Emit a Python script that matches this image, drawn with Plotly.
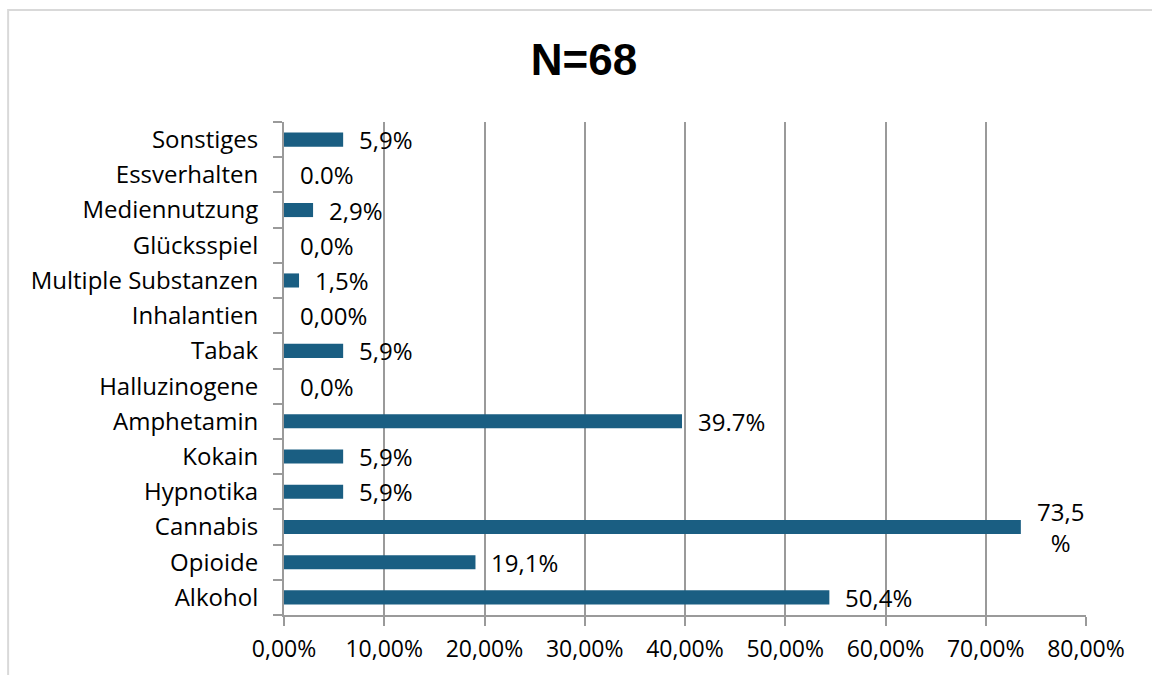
import plotly.graph_objects as go

categories = ["Alkohol", "Opioide", "Cannabis", "Hypnotika", "Kokain", "Amphetamin",
              "Halluzinogene", "Tabak", "Inhalantien", "Multiple Substanzen",
              "Glücksspiel", "Mediennutzung", "Essverhalten", "Sonstiges"]
values = [54.4, 19.1, 73.5, 5.9, 5.9, 39.7, 0.0, 5.9, 0.0, 1.5, 0.0, 2.9, 0.0, 5.9]
labels = ["50,4%", "19,1%", "73,5<br>%", "5,9%", "5,9%", "39.7%", "0,0%", "5,9%",
          "0,00%", "1,5%", "0,0%", "2,9%", "0.0%", "5,9%"]
tick_vals = [0, 10, 20, 30, 40, 50, 60, 70, 80]
tick_text = ["0,00%", "10,00%", "20,00%", "30,00%", "40,00%", "50,00%", "60,00%", "70,00%", "80,00%"]

FONT = "Open Sans, Liberation Sans, Arial, sans-serif"
TFONT = "Liberation Sans, Arial, sans-serif"
GRID = "#9a9a9a"

fig = go.Figure(go.Bar(
    x=values, y=categories, orientation="h",
    marker=dict(color="#1a5e82", line=dict(width=0)),
    width=0.4, hoverinfo="skip",
))

for c, v, t in zip(categories, values, labels):
    fig.add_annotation(x=v, y=c, text=t, showarrow=False, xanchor="left",
                       xshift=14, align="center",
                       font=dict(family=FONT, size=24, color="#000000"))

fig.add_shape(type="rect", xref="paper", yref="paper",
              x0=-0.344, x1=1.2, y0=-0.2, y1=1.227,
              line=dict(color="#d9d9d9", width=2), layer="below")

fig.update_layout(
    width=1152, height=675,
    margin=dict(l=284, r=66, t=122, b=60),
    paper_bgcolor="#ffffff", plot_bgcolor="#ffffff",
    title=dict(text="<b>N=68</b>", x=584 / 1152, xanchor="center", y=1 - 60 / 675, yanchor="middle",
               xref="container",
               font=dict(family=TFONT, size=44, color="#000000")),
    font=dict(family=FONT, size=24, color="#000000"),
    showlegend=False,
    xaxis=dict(range=[0, 80], tickvals=tick_vals, ticktext=tick_text,
               showgrid=True, gridcolor=GRID, gridwidth=2,
               showline=True, linecolor=GRID, linewidth=2,
               ticks="outside", ticklen=9, tickcolor=GRID, tickwidth=2,
               tickfont=dict(family=FONT, size=23, color="#000000"),
               ticklabelstandoff=3,
               zeroline=False, fixedrange=True),
    yaxis=dict(categoryorder="array", categoryarray=categories,
               range=[-0.5, 13.5], showgrid=False,
               showline=True, linecolor=GRID, linewidth=2,
               ticks="outside", tickson="boundaries", ticklen=9, tickcolor=GRID, tickwidth=2,
               tickfont=dict(family=FONT, size=24, color="#000000"),
               ticklabelstandoff=19,
               zeroline=False, fixedrange=True),
)

fig.write_html("out.html")
